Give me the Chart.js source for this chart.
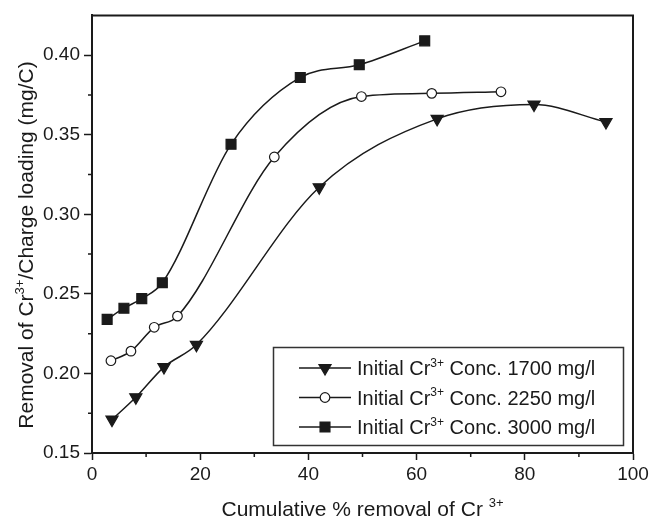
<!DOCTYPE html>
<html lang="en">
    <head>
        <meta charset="UTF-8">
        <title>Cr3+ removal vs charge loading</title>
        <script src="https://cdn.jsdelivr.net/npm/chart.js"></script>
        <style>
            body, html {
                margin: 0;
                padding: 0;
                background: #fff;
            }
            #chartContainer {
                width: 652px;
                height: 519px;
            }
        </style>
    </head>
    <body>
        <div id="chartContainer">
            <canvas id="removalChart"></canvas>
        </div>

        <script>
            // values
            const x1700 = [3.7, 8.1, 13.3, 19.3, 42.0, 63.8, 81.7, 95.0];
            const y1700 = [0.171, 0.185, 0.204, 0.218, 0.317, 0.360, 0.369, 0.358];
            const x2250 = [3.5, 7.2, 11.5, 15.8, 33.7, 49.8, 62.8, 75.6];
            const y2250 = [0.208, 0.214, 0.229, 0.236, 0.336, 0.374, 0.376, 0.377];
            const x3000 = [2.8, 5.9, 9.2, 13.0, 25.7, 38.5, 49.4, 61.5];
            const y3000 = [0.234, 0.241, 0.247, 0.257, 0.344, 0.386, 0.394, 0.409];

            const concentrations = ['1700', '2250', '3000'];
            const xTicks = [0, 20, 40, 60, 80, 100];
            const xMinorTicks = [10, 30, 50, 70, 90];
            const yTicks = [0.15, 0.20, 0.25, 0.30, 0.35, 0.40];
            const yMinorTicks = [0.175, 0.225, 0.275, 0.325, 0.375];

            const FONT = '"Liberation Sans", Arial, sans-serif';
            const INK = '#1a1a1a';

            function toPoints(xs, ys) {
                return xs.map((x, i) => ({ x: x, y: ys[i] }));
            }

            // draws text with "3+" style superscripts, parts = [[text, isSup], ...]
            function richWidth(ctx, parts, size) {
                let w = 0;
                parts.forEach(p => {
                    ctx.font = (p[1] ? Math.round(size * 0.62) : size) + 'px ' + FONT;
                    w += ctx.measureText(p[0]).width;
                });
                return w;
            }
            function drawRich(ctx, parts, x, y, size) {
                parts.forEach(p => {
                    const s = p[1] ? Math.round(size * 0.62) : size;
                    ctx.font = s + 'px ' + FONT;
                    ctx.fillText(p[0], x, p[1] ? y - size * 0.42 : y);
                    x += ctx.measureText(p[0]).width;
                });
            }

            const seriesStyle = [
                { pointStyle: 'triangle', radius: 7, rotation: 180, fill: INK },
                { pointStyle: 'circle', radius: 4.8, rotation: 0, fill: '#fff' },
                { pointStyle: 'rect', radius: 7, rotation: 0, fill: INK }
            ];

            const frameAndText = {
                id: 'frameAndText',
                afterDraw(chart) {
                    const ctx = chart.ctx;
                    const area = chart.chartArea;
                    const xs = chart.scales.x;
                    const ys = chart.scales.y;
                    ctx.save();

                    // top and right frame
                    ctx.strokeStyle = INK;
                    ctx.lineWidth = 2;
                    ctx.beginPath();
                    ctx.moveTo(area.left, area.top);
                    ctx.lineTo(area.right, area.top);
                    ctx.lineTo(area.right, area.bottom);
                    ctx.stroke();

                    // minor ticks
                    ctx.lineWidth = 1.5;
                    ctx.beginPath();
                    xMinorTicks.forEach(v => {
                        const px = xs.getPixelForValue(v);
                        ctx.moveTo(px, area.bottom);
                        ctx.lineTo(px, area.bottom + 4);
                    });
                    yMinorTicks.forEach(v => {
                        const py = ys.getPixelForValue(v);
                        ctx.moveTo(area.left, py);
                        ctx.lineTo(area.left - 4, py);
                    });
                    ctx.stroke();

                    // axis titles
                    ctx.fillStyle = INK;
                    ctx.textBaseline = 'alphabetic';
                    ctx.textAlign = 'left';
                    const xTitle = [['Cumulative % removal of Cr ', false], ['3+', true]];
                    const xw = richWidth(ctx, xTitle, 21);
                    drawRich(ctx, xTitle, (area.left + area.right) / 2 - xw / 2, 516, 21);

                    const yTitle = [['Removal of Cr', false], ['3+', true], ['/Charge loading (mg/C)', false]];
                    const yw = richWidth(ctx, yTitle, 21);
                    ctx.save();
                    ctx.translate(33, 245);
                    ctx.rotate(-Math.PI / 2);
                    drawRich(ctx, yTitle, -yw / 2, 0, 21);
                    ctx.restore();

                    // legend box
                    const lx = 273.5, ly = 347.5, lw = 350, lh = 98;
                    ctx.fillStyle = '#fff';
                    ctx.fillRect(lx, ly, lw, lh);
                    ctx.strokeStyle = '#333';
                    ctx.lineWidth = 1.5;
                    ctx.strokeRect(lx, ly, lw, lh);

                    chart.data.datasets.forEach((ds, i) => {
                        const rowY = 368 + i * 29.5;
                        ctx.strokeStyle = INK;
                        ctx.lineWidth = 1.5;
                        ctx.beginPath();
                        ctx.moveTo(299, rowY);
                        ctx.lineTo(351, rowY);
                        ctx.stroke();
                        const st = seriesStyle[i];
                        ctx.fillStyle = st.fill;
                        ctx.strokeStyle = INK;
                        ctx.lineWidth = 1.2;
                        Chart.helpers.drawPoint(ctx, {
                            pointStyle: st.pointStyle,
                            radius: st.radius,
                            rotation: st.rotation,
                            borderWidth: 1.2
                        }, 325, rowY);
                        ctx.fillStyle = INK;
                        drawRich(ctx, [['Initial Cr', false], ['3+', true],
                            [' Conc. ' + concentrations[i] + ' mg/l', false]], 357, rowY + 7, 20);
                    });
                    ctx.restore();
                }
            };

            const datasets = [
                { label: 'Initial Cr3+ Conc. ' + concentrations[0] + ' mg/l', data: toPoints(x1700, y1700) },
                { label: 'Initial Cr3+ Conc. ' + concentrations[1] + ' mg/l', data: toPoints(x2250, y2250) },
                { label: 'Initial Cr3+ Conc. ' + concentrations[2] + ' mg/l', data: toPoints(x3000, y3000) }
            ].map((ds, i) => Object.assign(ds, {
                borderColor: INK,
                borderWidth: 1.5,
                backgroundColor: seriesStyle[i].fill,
                pointBackgroundColor: seriesStyle[i].fill,
                pointBorderColor: INK,
                pointBorderWidth: 1.2,
                pointStyle: seriesStyle[i].pointStyle,
                pointRadius: seriesStyle[i].radius,
                pointRotation: seriesStyle[i].rotation,
                cubicInterpolationMode: 'monotone',
                showLine: true,
                fill: false,
                clip: false
            }));

            const ctx = document.getElementById('removalChart').getContext('2d');
            new Chart(ctx, {
                type: 'scatter',
                data: { datasets: datasets },
                options: {
                    responsive: true,
                    maintainAspectRatio: false,
                    animation: false,
                    layout: { padding: { top: 13, right: 19, left: 0, bottom: 0 } },
                    plugins: {
                        legend: { display: false },
                        tooltip: { enabled: false }
                    },
                    scales: {
                        x: {
                            type: 'linear',
                            min: 0,
                            max: 100,
                            afterBuildTicks: s => { s.ticks = xTicks.map(v => ({ value: v })); },
                            afterFit: s => { s.height = 66; },
                            grid: { drawOnChartArea: false, tickLength: 7, tickColor: INK, tickWidth: 1.5 },
                            border: { color: INK, width: 2 },
                            ticks: {
                                color: INK,
                                padding: 3,
                                maxRotation: 0,
                                font: { family: FONT, size: 19 },
                                callback: v => String(v)
                            }
                        },
                        y: {
                            type: 'linear',
                            min: 0.15,
                            max: 0.425,
                            afterBuildTicks: s => { s.ticks = yTicks.map(v => ({ value: v })); },
                            afterFit: s => { s.width = 92; },
                            grid: { drawOnChartArea: false, tickLength: 8, tickColor: INK, tickWidth: 1.5 },
                            border: { color: INK, width: 2 },
                            ticks: {
                                color: INK,
                                padding: 4,
                                font: { family: FONT, size: 19 },
                                callback: v => v.toFixed(2)
                            }
                        }
                    }
                },
                plugins: [frameAndText]
            });
        </script>
    </body>
</html>
